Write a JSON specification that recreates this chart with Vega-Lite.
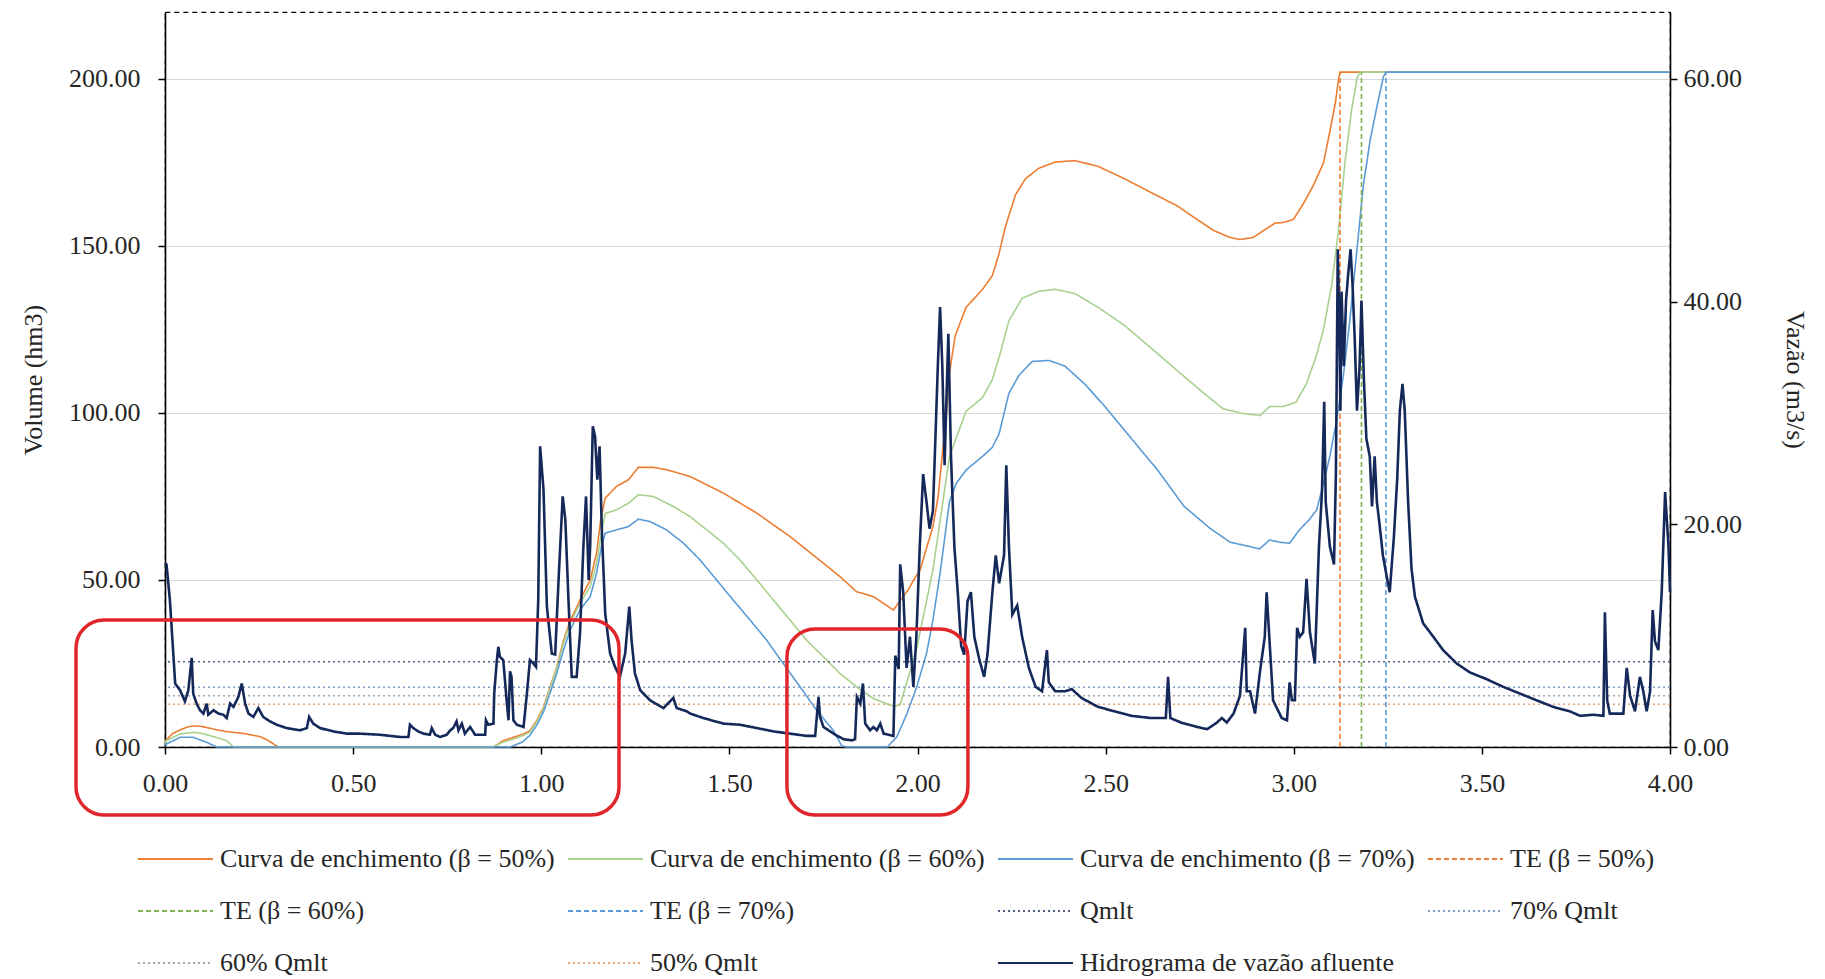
{
"$schema": "https://vega.github.io/schema/vega-lite/v6.json",
"width": 1505, "height": 735,
"autosize": {"type": "none"},
"padding": {"left": 165, "top": 12, "right": 155, "bottom": 232},
"background": "white",
"config": {
  "font": "Liberation Serif",
  "view": {"stroke": "#000", "strokeWidth": 1.2, "strokeDash": [5, 4]},
  "axis": {"labelFont": "Liberation Serif", "labelFontSize": 26, "labelColor": "#262626", "titleFont": "Liberation Serif", "titleFontSize": 26, "titleFontWeight": "normal", "titleColor": "#262626", "domainColor": "#000", "domainWidth": 1.6, "tickColor": "#000", "tickWidth": 1.5, "tickSize": 7, "gridColor": "#D9D9D9", "gridWidth": 1.2, "labelOverlap": false},
  "legend": {"orient": "none", "legendX": -28, "legendY": 832, "direction": "horizontal", "columns": 4, "columnPadding": 12, "rowPadding": 22, "clipHeight": 30, "symbolType": "stroke", "symbolSize": 5625, "symbolStrokeWidth": 2, "symbolOffset": 0, "labelFont": "Liberation Serif", "labelFontSize": 26, "labelColor": "#262626", "labelLimit": 1000, "labelOffset": 6, "padding": 0, "titlePadding": 0}
},
"datasets": {
  "c50": [{"t":0,"v":1.5},{"t":0.004,"v":2.2},{"t":0.02,"v":4},{"t":0.04,"v":5.1},{"t":0.06,"v":6},{"t":0.075,"v":6.3},{"t":0.095,"v":6.2},{"t":0.12,"v":5.6},{"t":0.14,"v":5.1},{"t":0.164,"v":4.6},{"t":0.19,"v":4.3},{"t":0.208,"v":4.1},{"t":0.23,"v":3.6},{"t":0.253,"v":3.1},{"t":0.27,"v":2.2},{"t":0.279,"v":1.6},{"t":0.29,"v":0.8},{"t":0.301,"v":0},{"t":0.873,"v":0},{"t":0.899,"v":1.9},{"t":0.926,"v":2.9},{"t":0.953,"v":3.9},{"t":0.97,"v":4.9},{"t":0.988,"v":7.9},{"t":1.006,"v":11.9},{"t":1.023,"v":17.9},{"t":1.041,"v":23.8},{"t":1.059,"v":31.8},{"t":1.077,"v":37.8},{"t":1.094,"v":41.8},{"t":1.103,"v":44},{"t":1.13,"v":50},{"t":1.147,"v":58},{"t":1.158,"v":68},{"t":1.17,"v":74.5},{"t":1.2,"v":78},{"t":1.232,"v":80},{"t":1.258,"v":83.7},{"t":1.298,"v":83.7},{"t":1.333,"v":83},{"t":1.395,"v":81},{"t":1.484,"v":76},{"t":1.573,"v":70},{"t":1.661,"v":63},{"t":1.75,"v":55},{"t":1.794,"v":51},{"t":1.838,"v":46.5},{"t":1.883,"v":45},{"t":1.936,"v":41},{"t":1.955,"v":44},{"t":1.975,"v":47},{"t":1.99,"v":50},{"t":2.007,"v":53},{"t":2.02,"v":58},{"t":2.041,"v":66},{"t":2.055,"v":75},{"t":2.068,"v":90},{"t":2.077,"v":100},{"t":2.085,"v":112},{"t":2.1,"v":123},{"t":2.129,"v":131.6},{"t":2.173,"v":137},{"t":2.199,"v":141.1},{"t":2.217,"v":147.8},{"t":2.234,"v":155.9},{"t":2.261,"v":165.4},{"t":2.287,"v":170.1},{"t":2.322,"v":173.2},{"t":2.366,"v":175.1},{"t":2.419,"v":175.5},{"t":2.48,"v":173.8},{"t":2.55,"v":170.1},{"t":2.62,"v":166},{"t":2.69,"v":162},{"t":2.743,"v":157.9},{"t":2.787,"v":154.6},{"t":2.831,"v":152.5},{"t":2.857,"v":151.9},{"t":2.892,"v":152.5},{"t":2.92,"v":154.6},{"t":2.95,"v":156.8},{"t":2.972,"v":157},{"t":2.999,"v":157.9},{"t":3.026,"v":162.7},{"t":3.052,"v":168.1},{"t":3.079,"v":174.8},{"t":3.096,"v":184.3},{"t":3.11,"v":192.4},{"t":3.12,"v":200.5},{"t":3.123,"v":202},{"t":4,"v":202}],
  "c60": [{"t":0,"v":1},{"t":0.004,"v":1.9},{"t":0.04,"v":3.9},{"t":0.075,"v":4.4},{"t":0.1,"v":4},{"t":0.12,"v":3.4},{"t":0.164,"v":1.9},{"t":0.182,"v":0},{"t":0.87,"v":0},{"t":0.9,"v":1.5},{"t":0.93,"v":2.5},{"t":0.953,"v":3.5},{"t":0.97,"v":4.5},{"t":0.988,"v":7.5},{"t":1.006,"v":11.5},{"t":1.023,"v":17.5},{"t":1.041,"v":23.5},{"t":1.059,"v":31},{"t":1.077,"v":37},{"t":1.094,"v":41},{"t":1.103,"v":43},{"t":1.13,"v":48},{"t":1.147,"v":55},{"t":1.16,"v":64},{"t":1.17,"v":69.9},{"t":1.2,"v":71},{"t":1.232,"v":73},{"t":1.258,"v":75.5},{"t":1.298,"v":75},{"t":1.351,"v":72},{"t":1.395,"v":69},{"t":1.44,"v":65},{"t":1.484,"v":61},{"t":1.528,"v":56},{"t":1.573,"v":50},{"t":1.617,"v":44},{"t":1.661,"v":38},{"t":1.705,"v":32},{"t":1.75,"v":27},{"t":1.794,"v":22},{"t":1.838,"v":18},{"t":1.883,"v":14.5},{"t":1.927,"v":12.5},{"t":1.94,"v":12.3},{"t":1.954,"v":12.7},{"t":1.997,"v":29},{"t":2.041,"v":53},{"t":2.085,"v":87},{"t":2.129,"v":100.5},{"t":2.173,"v":104.6},{"t":2.199,"v":110},{"t":2.217,"v":116.7},{"t":2.243,"v":127.6},{"t":2.278,"v":134.3},{"t":2.322,"v":136.4},{"t":2.366,"v":137},{"t":2.419,"v":135.7},{"t":2.48,"v":131.6},{"t":2.55,"v":126.2},{"t":2.62,"v":119.5},{"t":2.69,"v":112.7},{"t":2.761,"v":105.9},{"t":2.813,"v":101.2},{"t":2.866,"v":99.8},{"t":2.91,"v":99.2},{"t":2.936,"v":101.9},{"t":2.971,"v":101.9},{"t":3.006,"v":103.2},{"t":3.033,"v":108.6},{"t":3.059,"v":116.7},{"t":3.079,"v":124.9},{"t":3.101,"v":138.4},{"t":3.119,"v":154.6},{"t":3.136,"v":174.8},{"t":3.154,"v":191},{"t":3.169,"v":200.5},{"t":3.176,"v":202},{"t":4,"v":202}],
  "c70": [{"t":0,"v":0.5},{"t":0.004,"v":0.9},{"t":0.04,"v":2.9},{"t":0.075,"v":2.9},{"t":0.111,"v":1.4},{"t":0.137,"v":0},{"t":0.917,"v":0},{"t":0.95,"v":1.5},{"t":0.97,"v":3.5},{"t":0.988,"v":6.5},{"t":1.006,"v":10.5},{"t":1.023,"v":16},{"t":1.041,"v":22},{"t":1.059,"v":29},{"t":1.077,"v":35},{"t":1.094,"v":39},{"t":1.103,"v":41},{"t":1.13,"v":45},{"t":1.147,"v":52},{"t":1.16,"v":60},{"t":1.17,"v":64},{"t":1.2,"v":65},{"t":1.232,"v":66},{"t":1.258,"v":68.2},{"t":1.289,"v":67.5},{"t":1.333,"v":65},{"t":1.378,"v":61},{"t":1.422,"v":56},{"t":1.466,"v":50},{"t":1.51,"v":44},{"t":1.555,"v":38},{"t":1.599,"v":32},{"t":1.643,"v":25},{"t":1.688,"v":18},{"t":1.732,"v":11},{"t":1.776,"v":5},{"t":1.798,"v":0.5},{"t":1.81,"v":0},{"t":1.92,"v":0},{"t":1.945,"v":3},{"t":1.972,"v":10},{"t":1.998,"v":18},{"t":2.024,"v":28},{"t":2.041,"v":38},{"t":2.06,"v":52},{"t":2.085,"v":73.5},{"t":2.103,"v":78.9},{"t":2.129,"v":82.9},{"t":2.173,"v":87},{"t":2.199,"v":89.7},{"t":2.217,"v":93.8},{"t":2.243,"v":105.9},{"t":2.27,"v":111.3},{"t":2.305,"v":115.4},{"t":2.349,"v":115.7},{"t":2.392,"v":114},{"t":2.445,"v":108.6},{"t":2.498,"v":101.9},{"t":2.568,"v":92.4},{"t":2.638,"v":82.9},{"t":2.708,"v":72.1},{"t":2.778,"v":65.4},{"t":2.831,"v":61.3},{"t":2.883,"v":60},{"t":2.909,"v":59.3},{"t":2.936,"v":62},{"t":2.962,"v":61.3},{"t":2.989,"v":61},{"t":3.015,"v":65},{"t":3.041,"v":68},{"t":3.061,"v":71},{"t":3.079,"v":78.9},{"t":3.096,"v":87},{"t":3.114,"v":97.8},{"t":3.132,"v":111.3},{"t":3.149,"v":127.6},{"t":3.167,"v":147.8},{"t":3.185,"v":168.1},{"t":3.203,"v":181.6},{"t":3.22,"v":191.1},{"t":3.238,"v":200.5},{"t":3.245,"v":202},{"t":4,"v":202}],
  "te": [{"s":"TE (β = 50%)","t":3.123,"v0":0,"v1":202},{"s":"TE (β = 60%)","t":3.18,"v0":0,"v1":202},{"s":"TE (β = 70%)","t":3.245,"v0":0,"v1":202}],
  "qm": [{"s":"Qmlt","q":7.66},{"s":"70% Qmlt","q":5.36},{"s":"60% Qmlt","q":4.6},{"s":"50% Qmlt","q":3.83}],
  "box": [{"x0":-0.2365,"x1":1.2066,"y0":-6.11,"y1":11.4},{"x0":1.653,"x1":2.134,"y0":-6.11,"y1":10.6}],
  "h": [{"t":0,"q":16.5},{"t":0.004,"q":16.4},{"t":0.013,"q":13.2},{"t":0.022,"q":8.4},{"t":0.027,"q":5.7},{"t":0.04,"q":5.1},{"t":0.053,"q":4.1},{"t":0.062,"q":5.1},{"t":0.071,"q":8},{"t":0.075,"q":4.8},{"t":0.084,"q":3.9},{"t":0.093,"q":3.3},{"t":0.102,"q":3},{"t":0.111,"q":3.9},{"t":0.115,"q":2.9},{"t":0.129,"q":3.3},{"t":0.142,"q":3},{"t":0.155,"q":2.9},{"t":0.164,"q":2.6},{"t":0.173,"q":3.9},{"t":0.182,"q":3.6},{"t":0.195,"q":4.5},{"t":0.204,"q":5.7},{"t":0.213,"q":3.9},{"t":0.222,"q":3},{"t":0.235,"q":2.7},{"t":0.248,"q":3.5},{"t":0.261,"q":2.7},{"t":0.279,"q":2.3},{"t":0.297,"q":2},{"t":0.323,"q":1.7},{"t":0.359,"q":1.5},{"t":0.377,"q":1.7},{"t":0.383,"q":2.7},{"t":0.394,"q":2.1},{"t":0.412,"q":1.7},{"t":0.447,"q":1.4},{"t":0.483,"q":1.2},{"t":0.518,"q":1.2},{"t":0.571,"q":1.1},{"t":0.625,"q":0.9},{"t":0.647,"q":0.9},{"t":0.651,"q":2},{"t":0.66,"q":1.7},{"t":0.673,"q":1.4},{"t":0.687,"q":1.2},{"t":0.704,"q":1.1},{"t":0.709,"q":1.7},{"t":0.718,"q":1.1},{"t":0.731,"q":0.9},{"t":0.749,"q":1.1},{"t":0.758,"q":1.5},{"t":0.766,"q":1.7},{"t":0.775,"q":2.3},{"t":0.78,"q":1.5},{"t":0.789,"q":2.1},{"t":0.797,"q":1.2},{"t":0.811,"q":1.8},{"t":0.824,"q":1.1},{"t":0.851,"q":1.1},{"t":0.853,"q":2.4},{"t":0.859,"q":2},{"t":0.873,"q":2.1},{"t":0.875,"q":4.8},{"t":0.882,"q":7.8},{"t":0.886,"q":9},{"t":0.89,"q":8.1},{"t":0.899,"q":7.8},{"t":0.908,"q":4.2},{"t":0.913,"q":2.4},{"t":0.917,"q":6.8},{"t":0.921,"q":6.3},{"t":0.926,"q":2.4},{"t":0.935,"q":2},{"t":0.953,"q":1.8},{"t":0.961,"q":4.5},{"t":0.97,"q":7.8},{"t":0.979,"q":7.5},{"t":0.986,"q":7.2},{"t":0.992,"q":13.2},{"t":0.997,"q":27},{"t":1.006,"q":23.1},{"t":1.015,"q":12.6},{"t":1.028,"q":8.4},{"t":1.037,"q":8.3},{"t":1.046,"q":15},{"t":1.057,"q":22.5},{"t":1.064,"q":20.4},{"t":1.072,"q":13.5},{"t":1.081,"q":6.3},{"t":1.094,"q":6.3},{"t":1.103,"q":10.2},{"t":1.112,"q":18},{"t":1.119,"q":22.5},{"t":1.126,"q":15},{"t":1.13,"q":18},{"t":1.137,"q":28.8},{"t":1.143,"q":27.9},{"t":1.149,"q":24},{"t":1.155,"q":27},{"t":1.161,"q":19.5},{"t":1.17,"q":12},{"t":1.183,"q":8.4},{"t":1.196,"q":7.2},{"t":1.209,"q":6.3},{"t":1.223,"q":8.4},{"t":1.234,"q":12.6},{"t":1.24,"q":9.6},{"t":1.249,"q":6.6},{"t":1.263,"q":5.1},{"t":1.289,"q":4.2},{"t":1.325,"q":3.5},{"t":1.351,"q":4.4},{"t":1.36,"q":3.5},{"t":1.387,"q":3.2},{"t":1.396,"q":3},{"t":1.431,"q":2.6},{"t":1.484,"q":2.1},{"t":1.528,"q":2},{"t":1.573,"q":1.7},{"t":1.617,"q":1.4},{"t":1.661,"q":1.2},{"t":1.705,"q":1},{"t":1.728,"q":1},{"t":1.737,"q":4.5},{"t":1.741,"q":2.7},{"t":1.75,"q":1.8},{"t":1.777,"q":1.2},{"t":1.803,"q":0.7},{"t":1.826,"q":0.6},{"t":1.834,"q":0.7},{"t":1.839,"q":4.5},{"t":1.848,"q":3.9},{"t":1.855,"q":5.7},{"t":1.861,"q":2.1},{"t":1.874,"q":1.5},{"t":1.883,"q":1.8},{"t":1.892,"q":1.5},{"t":1.901,"q":2.1},{"t":1.91,"q":1.2},{"t":1.936,"q":1},{"t":1.941,"q":8.2},{"t":1.95,"q":7},{"t":1.954,"q":16.4},{"t":1.962,"q":13.9},{"t":1.971,"q":7.1},{"t":1.98,"q":9.9},{"t":1.989,"q":5.4},{"t":1.997,"q":9.9},{"t":2.006,"q":18},{"t":2.015,"q":24.5},{"t":2.024,"q":22},{"t":2.032,"q":19.6},{"t":2.041,"q":21.2},{"t":2.048,"q":28.1},{"t":2.054,"q":34.2},{"t":2.06,"q":39.5},{"t":2.066,"q":34.2},{"t":2.072,"q":25.3},{"t":2.076,"q":30.2},{"t":2.082,"q":37.1},{"t":2.089,"q":26.1},{"t":2.098,"q":18},{"t":2.107,"q":13.9},{"t":2.116,"q":9.1},{"t":2.124,"q":8.3},{"t":2.133,"q":13.1},{"t":2.142,"q":13.9},{"t":2.151,"q":9.9},{"t":2.164,"q":7.9},{"t":2.177,"q":6.3},{"t":2.186,"q":8.3},{"t":2.199,"q":13.9},{"t":2.208,"q":17.2},{"t":2.217,"q":14.7},{"t":2.23,"q":17.2},{"t":2.236,"q":25.3},{"t":2.243,"q":18},{"t":2.252,"q":11.9},{"t":2.265,"q":12.7},{"t":2.278,"q":9.9},{"t":2.296,"q":7.1},{"t":2.314,"q":5.4},{"t":2.331,"q":5},{"t":2.344,"q":8.7},{"t":2.349,"q":5.8},{"t":2.366,"q":5},{"t":2.392,"q":5},{"t":2.41,"q":5.2},{"t":2.436,"q":4.4},{"t":2.48,"q":3.6},{"t":2.524,"q":3.2},{"t":2.568,"q":2.8},{"t":2.621,"q":2.6},{"t":2.66,"q":2.6},{"t":2.666,"q":6.3},{"t":2.672,"q":2.6},{"t":2.7,"q":2.2},{"t":2.743,"q":1.8},{"t":2.77,"q":1.6},{"t":2.796,"q":2.2},{"t":2.809,"q":2.6},{"t":2.822,"q":2.2},{"t":2.84,"q":3},{"t":2.857,"q":4.6},{"t":2.871,"q":10.7},{"t":2.875,"q":5},{"t":2.884,"q":5},{"t":2.897,"q":3},{"t":2.91,"q":6.7},{"t":2.923,"q":9.9},{"t":2.928,"q":13.9},{"t":2.935,"q":9.9},{"t":2.945,"q":4.2},{"t":2.968,"q":2.6},{"t":2.982,"q":2.4},{"t":2.989,"q":5.8},{"t":2.995,"q":4.2},{"t":3.003,"q":4.2},{"t":3.009,"q":10.7},{"t":3.016,"q":9.9},{"t":3.025,"q":10.3},{"t":3.034,"q":15.1},{"t":3.043,"q":10.3},{"t":3.056,"q":7.5},{"t":3.067,"q":18},{"t":3.075,"q":22.9},{"t":3.081,"q":31},{"t":3.085,"q":22},{"t":3.096,"q":18},{"t":3.107,"q":16.4},{"t":3.112,"q":24.5},{"t":3.117,"q":44.7},{"t":3.121,"q":38.3},{"t":3.124,"q":30.2},{"t":3.127,"q":40.9},{"t":3.133,"q":34.2},{"t":3.139,"q":40.1},{"t":3.145,"q":42.6},{"t":3.151,"q":44.7},{"t":3.156,"q":41.7},{"t":3.162,"q":36.7},{"t":3.168,"q":30.2},{"t":3.175,"q":34.2},{"t":3.18,"q":40.1},{"t":3.186,"q":33.4},{"t":3.193,"q":27.7},{"t":3.202,"q":26.1},{"t":3.208,"q":21.6},{"t":3.215,"q":26.1},{"t":3.221,"q":22},{"t":3.228,"q":20},{"t":3.237,"q":17.2},{"t":3.246,"q":15.5},{"t":3.255,"q":13.9},{"t":3.266,"q":18.8},{"t":3.275,"q":24.1},{"t":3.282,"q":30.2},{"t":3.289,"q":32.6},{"t":3.295,"q":30.2},{"t":3.304,"q":22},{"t":3.313,"q":16},{"t":3.322,"q":13.5},{"t":3.344,"q":11.1},{"t":3.371,"q":9.9},{"t":3.397,"q":8.7},{"t":3.433,"q":7.5},{"t":3.468,"q":6.7},{"t":3.512,"q":6.1},{"t":3.557,"q":5.4},{"t":3.601,"q":4.8},{"t":3.645,"q":4.2},{"t":3.69,"q":3.6},{"t":3.734,"q":3.2},{"t":3.761,"q":2.8},{"t":3.796,"q":2.9},{"t":3.823,"q":2.8},{"t":3.827,"q":12.1},{"t":3.833,"q":4.2},{"t":3.84,"q":3},{"t":3.876,"q":3},{"t":3.885,"q":7.1},{"t":3.894,"q":4.6},{"t":3.907,"q":3.2},{"t":3.92,"q":6.3},{"t":3.929,"q":5},{"t":3.938,"q":3.2},{"t":3.947,"q":5},{"t":3.954,"q":12.3},{"t":3.96,"q":9.5},{"t":3.969,"q":8.7},{"t":3.978,"q":13.9},{"t":3.987,"q":22.9},{"t":3.996,"q":18},{"t":4,"q":13.9}]
},
"layer": [
  {
    "encoding": {
      "x": {"field": "t", "type": "quantitative", "scale": {"domain": [0, 4], "nice": false, "zero": false},
            "axis": {"values": [0, 0.5, 1, 1.5, 2, 2.5, 3, 3.5, 4], "format": ".2f", "title": null, "grid": false, "labelPadding": 16, "labelFlush": false}},
      "y": {"field": "v", "type": "quantitative", "scale": {"domain": [0, 220], "nice": false},
            "axis": {"orient": "left", "values": [0, 50, 100, 150, 200], "format": ".2f", "title": "Volume (hm3)", "grid": true, "labelPadding": 18, "titlePadding": 22}}
    },
    "layer": [
      {
        "data": {"name": "c50"},
        "mark": {"type": "line", "strokeWidth": 1.6},
        "encoding": {
          "color": {"datum": "Curva de enchimento (β = 50%)", "type": "nominal", "title": null,
            "scale": {"domain": ["Curva de enchimento (β = 50%)", "Curva de enchimento (β = 60%)", "Curva de enchimento (β = 70%)", "TE (β = 50%)", "TE (β = 60%)", "TE (β = 70%)", "Qmlt", "70% Qmlt", "60% Qmlt", "50% Qmlt", "Hidrograma de vazão afluente"],
                      "range": ["#ED7D31", "#A9D18E", "#5B9BD5", "#ED7D31", "#7FB24F", "#5B9BD5", "#4F6080", "#7F9FC8", "#A5A5A5", "#E3A77A", "#14285A"]},
            "legend": {"title": null}},
          "strokeDash": {"datum": "Curva de enchimento (β = 50%)", "type": "nominal", "title": null,
            "scale": {"domain": ["Curva de enchimento (β = 50%)", "Curva de enchimento (β = 60%)", "Curva de enchimento (β = 70%)", "TE (β = 50%)", "TE (β = 60%)", "TE (β = 70%)", "Qmlt", "70% Qmlt", "60% Qmlt", "50% Qmlt", "Hidrograma de vazão afluente"],
                      "range": [[1, 0], [1, 0], [1, 0], [5, 3], [5, 3], [5, 3], [2, 3], [2, 3], [2, 3], [2, 3], [1, 0]]},
            "legend": {"title": null}}
        }
      },
      {
        "data": {"name": "c60"},
        "mark": {"type": "line", "strokeWidth": 1.6},
        "encoding": {
          "color": {"datum": "Curva de enchimento (β = 60%)", "type": "nominal", "title": null, "legend": {"title": null}},
          "strokeDash": {"datum": "Curva de enchimento (β = 60%)", "type": "nominal", "title": null, "legend": {"title": null}}
        }
      },
      {
        "data": {"name": "c70"},
        "mark": {"type": "line", "strokeWidth": 1.6},
        "encoding": {
          "color": {"datum": "Curva de enchimento (β = 70%)", "type": "nominal", "title": null, "legend": {"title": null}},
          "strokeDash": {"datum": "Curva de enchimento (β = 70%)", "type": "nominal", "title": null, "legend": {"title": null}}
        }
      },
      {
        "data": {"name": "te"},
        "mark": {"type": "rule", "strokeWidth": 1.6},
        "encoding": {
          "y": {"field": "v0", "type": "quantitative", "scale": {"domain": [0, 220], "nice": false},
                "axis": {"orient": "left", "values": [0, 50, 100, 150, 200], "format": ".2f", "title": "Volume (hm3)", "grid": true, "labelPadding": 18, "titlePadding": 22}},
          "y2": {"field": "v1"},
          "color": {"field": "s", "type": "nominal", "title": null, "legend": {"title": null}},
          "strokeDash": {"field": "s", "type": "nominal", "title": null, "legend": {"title": null}}
        }
      }
    ]
  },
  {
    "encoding": {
      "x": {"field": "t", "type": "quantitative", "scale": {"domain": [0, 4], "nice": false, "zero": false},
            "axis": {"values": [0, 0.5, 1, 1.5, 2, 2.5, 3, 3.5, 4], "format": ".2f", "title": null, "grid": false, "labelPadding": 16, "labelFlush": false}},
      "y": {"field": "q", "type": "quantitative", "scale": {"domain": [0, 66], "nice": false},
            "axis": {"orient": "right", "values": [0, 20, 40, 60], "format": ".2f", "title": "Vazão (m3/s)", "grid": false, "labelPadding": 6, "titlePadding": 40}}
    },
    "layer": [
      {
        "data": {"name": "qm"},
        "mark": {"type": "rule", "strokeWidth": 1.5},
        "encoding": {
          "x": null,
          "color": {"field": "s", "type": "nominal", "title": null, "legend": {"title": null}},
          "strokeDash": {"field": "s", "type": "nominal", "title": null, "legend": {"title": null}}
        }
      },
      {
        "data": {"name": "h"},
        "mark": {"type": "line", "strokeWidth": 2.6},
        "encoding": {
          "color": {"datum": "Hidrograma de vazão afluente", "type": "nominal", "title": null, "legend": {"title": null}},
          "strokeDash": {"datum": "Hidrograma de vazão afluente", "type": "nominal", "title": null, "legend": {"title": null}}
        }
      },
      {
        "data": {"name": "box"},
        "mark": {"type": "rect", "filled": false, "color": "#E0262B", "strokeWidth": 3.5, "cornerRadius": 28},
        "encoding": {
          "x": {"field": "x0", "type": "quantitative", "scale": {"domain": [0, 4], "nice": false, "zero": false},
                "axis": {"values": [0, 0.5, 1, 1.5, 2, 2.5, 3, 3.5, 4], "format": ".2f", "title": null, "grid": false, "labelPadding": 16, "labelFlush": false}},
          "x2": {"field": "x1"},
          "y": {"field": "y0", "type": "quantitative", "scale": {"domain": [0, 66], "nice": false},
                "axis": {"orient": "right", "values": [0, 20, 40, 60], "format": ".2f", "title": "Vazão (m3/s)", "grid": false, "labelPadding": 6, "titlePadding": 40}},
          "y2": {"field": "y1"}
        }
      }
    ]
  }
],
"resolve": {"scale": {"y": "independent"}}
}
